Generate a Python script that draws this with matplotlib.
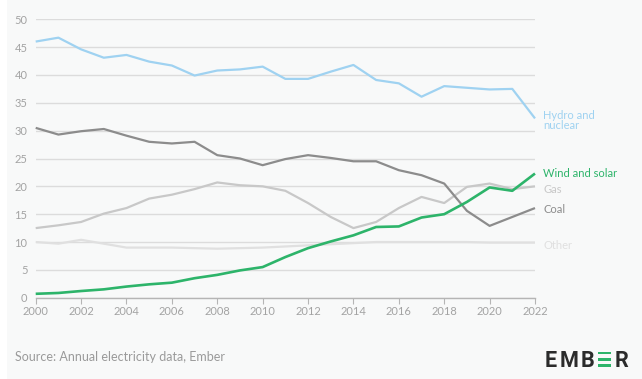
import matplotlib
matplotlib.use('Agg')
import matplotlib.pyplot as plt
from matplotlib.patches import Rectangle

# ── Data (share of electricity, %) ────────────────────────────────────────────
years = list(range(2000, 2023))

hydro_nuclear = [46.0, 46.7, 44.6, 43.1, 43.6, 42.4, 41.7, 39.9, 40.8, 41.0, 41.5, 39.3,
                 39.3, 40.6, 41.8, 39.1, 38.5, 36.1, 38.0, 37.7, 37.4, 37.5, 32.2]
coal          = [30.5, 29.3, 29.9, 30.3, 29.1, 28.0, 27.7, 28.0, 25.6, 25.0, 23.8, 24.9,
                 25.6, 25.1, 24.5, 24.5, 22.9, 22.0, 20.5, 15.6, 12.9, 14.5, 16.1]
gas           = [12.5, 13.0, 13.6, 15.1, 16.1, 17.8, 18.5, 19.5, 20.7, 20.2, 20.0, 19.2,
                 17.0, 14.5, 12.5, 13.6, 16.1, 18.1, 17.0, 19.9, 20.5, 19.5, 20.0]
wind_solar    = [0.7, 0.85, 1.2, 1.5, 2.0, 2.4, 2.7, 3.5, 4.1, 4.9, 5.5, 7.3,
                 8.9, 10.1, 11.2, 12.7, 12.8, 14.4, 15.0, 17.2, 19.8, 19.2, 22.3]
other         = [10.0, 9.7, 10.4, 9.7, 9.0, 9.0, 9.0, 8.9, 8.8, 8.9, 9.0, 9.2,
                 9.4, 9.6, 9.8, 10.0, 10.0, 10.0, 10.0, 10.0, 9.9, 9.9, 9.9]

y_ticks = [0, 5, 10, 15, 20, 25, 30, 35, 40, 45, 50]
x_ticks = list(range(2000, 2023, 2))

# ── Style ─────────────────────────────────────────────────────────────────────
BG_COLOR   = '#f8f9f9'
GRID_COLOR = '#dcdcdc'
TICK_COLOR = '#a3a3a3'
GREEN      = '#2db46a'
FONT       = ['Lato', 'DejaVu Sans']

series = [
    # label, values, colour, width, label offset (pt)
    ('Other',          other,         '#e0e0e0', 1.6, -2),
    ('Gas',            gas,           '#c8c8c8', 1.6, -2),
    ('Coal',           coal,          '#8c8c8c', 1.6, -1),
    ('Hydro and\nnuclear', hydro_nuclear, '#9fd2f1', 1.6, -1.5),
    ('Wind and solar', wind_solar,    GREEN,     1.9, 0),
]

plt.rcParams['font.family'] = FONT

fig = plt.figure(figsize=(6.42, 3.79), dpi=100, facecolor=BG_COLOR)
fig.patches.append(Rectangle((0, 0), 7 / 642, 1, transform=fig.transFigure,
                             facecolor='white', edgecolor='none', zorder=0))
ax = fig.add_axes([35.7 / 642, 1 - 297.7 / 379, (535 - 35.7) / 642, (297.7 - 19.3) / 379])
ax.set_facecolor(BG_COLOR)

for label, vals, color, lw, dy in series:
    ax.plot(years, vals, color=color, lw=lw, clip_on=False, zorder=3,
            solid_joinstyle='round', solid_capstyle='butt')
    ax.annotate(label, xy=(years[-1], vals[-1]), xytext=(6, dy),
                textcoords='offset points', ha='left', va='center',
                color=color, fontsize=8, linespacing=0.8)

ax.set_xlim(2000, 2022)
ax.set_ylim(0, 50)
ax.set_yticks(y_ticks)
ax.set_xticks(x_ticks)
ax.grid(True, axis='y', color=GRID_COLOR, lw=1)
ax.set_axisbelow(True)

for s in ['top', 'right', 'left']:
    ax.spines[s].set_visible(False)
ax.spines['bottom'].set_color('#b5b5b5')
ax.spines['bottom'].set_linewidth(1)

ax.tick_params(axis='y', length=0, pad=6, labelsize=8, labelcolor=TICK_COLOR)
ax.tick_params(axis='x', length=4, width=0.8, color='#b5b5b5', pad=2,
               labelsize=8, labelcolor=TICK_COLOR)

# ── Footer ────────────────────────────────────────────────────────────────────
fig.text(15 / 642, 1 - 357 / 379, 'Source: Annual electricity data, Ember',
         fontsize=9, color='#9a9a9a', ha='left', va='center')

# EMBER logo: the second E is three green bars
logo_kw = dict(fontsize=15.5, fontweight='bold', color='#2b2b2b', ha='left',
               va='baseline', family=['Roboto', 'DejaVu Sans'])
logo_base = 1 - 367 / 379
for ch, px in [('E', 545), ('M', 560), ('B', 580.5), ('R', 614.5)]:
    fig.text(px / 642, logo_base, ch, **logo_kw)
for top in (351.5, 357.9, 364.3):
    fig.patches.append(Rectangle((597.5 / 642, 1 - (top + 2.7) / 379), 13.5 / 642, 2.7 / 379,
                                 transform=fig.transFigure, facecolor=GREEN,
                                 edgecolor='none'))

fig.savefig('out.png', dpi=100, facecolor=BG_COLOR)
